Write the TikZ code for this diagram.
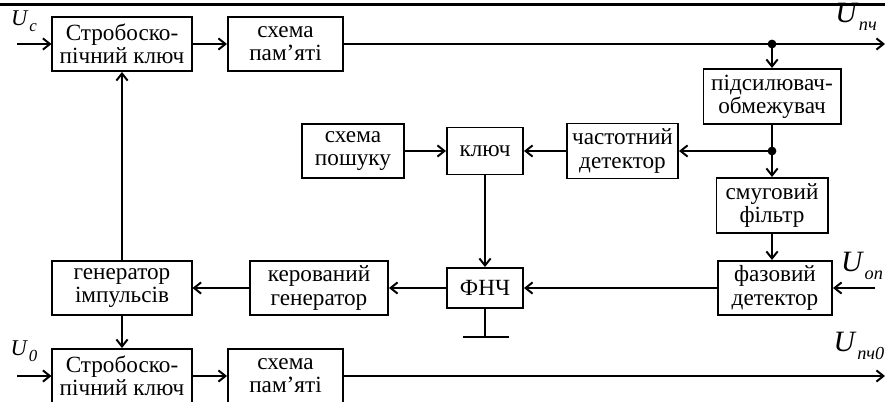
\documentclass[tikz,border=0pt]{standalone}
\usepackage{fontspec}
\setmainfont{Liberation Serif}
\usetikzlibrary{arrows, arrows.meta, positioning}

\newcommand{\usig}[2][13]{\textit{U}\kern0.5pt\raisebox{-0.6ex}{\fontsize{#1}{#1}\selectfont\textit{#2}}}

\begin{document}
\begin{tikzpicture}[x=0.025cm, y=-0.025cm, line width=1.4pt,
    >={Straight Barb[length=5pt,width=8pt]},
    blk/.style={draw, align=center, inner sep=1pt, font=\fontsize{16.5}{16.5}\selectfont},
    lbl/.style={font=\fontsize{16}{16}\selectfont},
    biglbl/.style={font=\fontsize{21}{21}\selectfont},
    jdot/.style={circle, fill, inner sep=0pt, minimum size=0.22cm}]
    \useasboundingbox (0,0) rectangle (885,401);
    \clip (0,0) rectangle (885,401);
    \draw[line width=2.2pt] (0,4.5) -- (885,4.5);

    \node[blk, minimum width=3.475cm, minimum height=1.35cm] (strobA) at (122,44) {Стробоско-\\пічний ключ};
    \node[blk, minimum width=2.875cm, minimum height=1.35cm] (memA) at (285.5,44) {схема\\пам’яті};
    \node[blk, minimum width=3.425cm, minimum height=1.375cm] (amp) at (772,96.5) {підсилювач-\\обмежувач};
    \node[blk, minimum width=2.55cm, minimum height=1.35cm] (search) at (353,151) {схема\\пошуку};
    \node[blk, minimum width=1.9cm, minimum height=1.175cm] (key) at (485,151) {ключ};
    \node[blk, minimum width=2.775cm, minimum height=1.375cm] (freq) at (622.5,151) {частотний\\детектор};
    \node[blk, minimum width=2.775cm, minimum height=1.375cm] (band) at (772,205.5) {смуговий\\фільтр};
    \node[blk, minimum width=2.85cm, minimum height=1.35cm] (phase) at (775,288) {фазовий\\детектор};
    \node[blk, minimum width=1.9cm, minimum height=1cm] (lpf) at (485,288) {ФНЧ};
    \node[blk, minimum width=3.45cm, minimum height=1.35cm] (vco) at (319,288) {керований\\генератор};
    \node[blk, minimum width=3.475cm, minimum height=1.35cm] (pulse) at (122,288) {генератор\\імпульсів};
    \node[blk, minimum width=3.475cm, minimum height=1.35cm] (strobB) at (122,376) {Стробоско-\\пічний ключ};
    \node[blk, minimum width=2.875cm, minimum height=1.35cm] (memB) at (285.5,376) {схема\\пам’яті};

    \node[lbl] (uc) at (24,21) {\usig[12]{с}};
    \node[biglbl] (upch) at (856,17) {\usig{пч}};
    \node[biglbl] (uon) at (862,266) {\usig{оп}};
    \node[biglbl] (upch0) at (859,346) {\usig{пч0}};
    \node[lbl] (u0) at (24,351) {\usig[12]{0}};

    \coordinate (inA) at (17,44);
    \coordinate (outA) at (885,44);
    \coordinate (tapA) at (772,44);
    \coordinate (tapB) at (772,151);
    \coordinate (inB) at (17,376);
    \coordinate (outB) at (885,376);
    \coordinate (inRef) at (875,288);
    \coordinate (gnd) at (485,337);
    \coordinate (gndL) at (463,337);
    \coordinate (gndR) at (509,337);

    \draw[->] (inA) -- (strobA);
    \draw[->] (strobA) -- (memA);
    \draw[->] (memA) -- (outA);
    \draw[->] (tapA) -- (amp);
    \draw[->] (amp) -- (band);
    \draw[->] (tapB) -- (freq);
    \draw[->] (freq) -- (key);
    \draw[->] (search) -- (key);
    \draw[->] (key) -- (lpf);
    \draw[->] (band.south) -- (band.south |- phase.north);
    \draw[->] (inRef) -- (phase);
    \draw[->] (phase) -- (lpf);
    \draw[->] (lpf) -- (vco);
    \draw[->] (vco) -- (pulse);
    \draw[->] (pulse) -- (strobA);
    \draw[->] (pulse) -- (strobB);
    \draw[->] (inB) -- (strobB);
    \draw[->] (strobB) -- (memB);
    \draw[->] (memB) -- (outB);
    \draw (lpf) -- (gnd);
    \draw (gndL) -- (gndR);
    \node[jdot] (dotA) at (tapA) {};
    \node[jdot] (dotB) at (tapB) {};
\end{tikzpicture}
\end{document}
